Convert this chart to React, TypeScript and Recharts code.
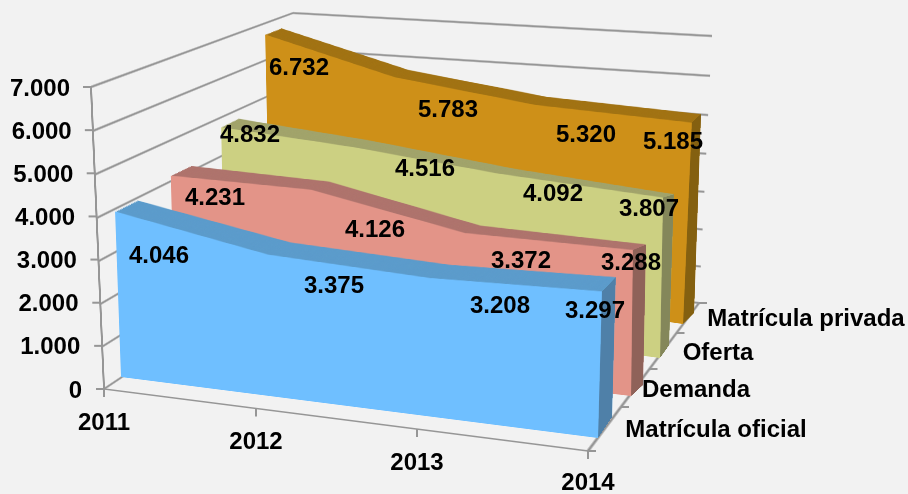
import { Area, AreaChart, CartesianGrid, Line, LineChart, ReferenceLine, Scatter, ScatterChart, XAxis, YAxis, LabelList } from 'recharts';

const YEARS = ['2011', '2012', '2013', '2014'];
const OFICIAL = [4046, 3375, 3208, 3297];
const DEMANDA = [4231, 4126, 3372, 3288];
const OFERTA = [4832, 4516, 4092, 3807];
const PRIVADA = [6732, 5783, 5320, 5185];
const Y_TICKS = [0, 1000, 2000, 3000, 4000, 5000, 6000, 7000];
const Y_MAX = 7000;

type Pt = [number, number];
type Quad = { tl: Pt; tr: Pt; br: Pt; bl: Pt };

const FONT = '"Liberation Sans", Arial, sans-serif';
const GRID = '#969696';
const BG = '#f2f2f2';
const FONT_SIZE = 24;

// plane size inside which every flat chart is drawn before being pinned on its 3d quad
const PW = 500;
const PH = 400;
const PM = 4;
const SWEEP = 14;

const LEFT_WALL: Quad = { tl: [91, 87], tr: [293, 13], br: [300, 258], bl: [104, 389] };
const BACK_WALL: Quad = { tl: [293, 13], tr: [712, 36], br: [699, 303], bl: [300, 258] };
const FLOOR: Quad = { tl: [300, 258], tr: [699, 303], br: [588, 451], bl: [104, 389] };

const SERIES = [
  {
    name: 'Matrícula privada', values: PRIVADA, fill: '#ce9018', top: '#a17212', side: '#846010',
    front: { tl: [265, 25], tr: [695, 49], br: [683, 324], bl: [270, 265] } as Quad,
    back: { tl: [281, 19], tr: [703.5, 42], br: [694, 313], bl: [285, 254] } as Quad,
    labels: [[299, 66], [448, 108], [586, 133], [673, 140]],
    nameAt: [806, 317],
  },
  {
    name: 'Oferta', values: OFERTA, fill: '#ccd082', top: '#a1a36a', side: '#84875a',
    front: { tl: [220, 48], tr: [665.5, 60], br: [660, 358], bl: [224, 300] } as Quad,
    back: { tl: [237, 41], tr: [678, 64], br: [669, 345], bl: [241, 287] } as Quad,
    labels: [[250, 133], [425, 167], [553, 192], [649, 207]],
    nameAt: [718, 351],
  },
  {
    name: 'Demanda', values: DEMANDA, fill: '#e39488', top: '#ae736c', side: '#8f6259',
    front: { tl: [168, 65], tr: [635, 81], br: [631, 396], bl: [175, 341] } as Quad,
    back: { tl: [188, 59], tr: [649.5, 81], br: [643, 385], bl: [195, 325] } as Quad,
    labels: [[215, 196], [375, 228], [521, 259], [631, 261]],
    nameAt: [696, 388],
  },
  {
    name: 'Matrícula oficial', values: OFICIAL, fill: '#6fbfff', top: '#5b9bcb', side: '#4f80a8',
    front: { tl: [110.6, 86], tr: [606.5, 120], br: [598, 438], bl: [121, 377] } as Quad,
    back: { tl: [133, 78], tr: [620, 114], br: [612, 417], bl: [143, 362] } as Quad,
    labels: [[159, 254], [334, 284], [500, 304], [595, 309]],
    nameAt: [716, 428],
  },
];

const YEAR_TICK_X = [104, 256, 417, 588];
const DEPTH_TICK_Y = [303, 333, 369, 407, 451];

const fmt = (v: number) => v.toLocaleString('de-DE');

// maps the unit square (u right, v down) on a quad
function homography(q: Quad) {
  const [x0, y0] = q.tl, [x1, y1] = q.tr, [x2, y2] = q.br, [x3, y3] = q.bl;
  const dx1 = x1 - x2, dx2 = x3 - x2, dx3 = x0 - x1 + x2 - x3;
  const dy1 = y1 - y2, dy2 = y3 - y2, dy3 = y0 - y1 + y2 - y3;
  const det = dx1 * dy2 - dx2 * dy1;
  const g = (dx3 * dy2 - dx2 * dy3) / det;
  const h = (dx1 * dy3 - dx3 * dy1) / det;
  return { a: x1 - x0 + g * x1, b: x3 - x0 + h * x3, c: x0, d: y1 - y0 + g * y1, e: y3 - y0 + h * y3, f: y0, g, h };
}

function project(q: Quad, u: number, v: number): Pt {
  const m = homography(q);
  const w = m.g * u + m.h * v + 1;
  return [(m.a * u + m.b * v + m.c) / w, (m.d * u + m.e * v + m.f) / w];
}

function pinTransform(q: Quad) {
  const { a, b, c, d, e, f, g, h } = homography(q);
  const w = PW - 2 * PM, ht = PH - 2 * PM;
  const m11 = a / w, m12 = b / ht, m13 = c - (a * PM) / w - (b * PM) / ht;
  const m21 = d / w, m22 = e / ht, m23 = f - (d * PM) / w - (e * PM) / ht;
  const m31 = g / w, m32 = h / ht, m33 = 1 - (g * PM) / w - (h * PM) / ht;
  return `matrix3d(${[m11, m21, 0, m31, m12, m22, 0, m32, 0, 0, 1, 0, m13, m23, 0, m33].join(',')})`;
}

const mix = (a: Quad, b: Quad, t: number): Quad => {
  const l = (p: Pt, q: Pt): Pt => [p[0] + (q[0] - p[0]) * t, p[1] + (q[1] - p[1]) * t];
  return { tl: l(a.tl, b.tl), tr: l(a.tr, b.tr), br: l(a.br, b.br), bl: l(a.bl, b.bl) };
};

function Plane({ quad, children }: { quad: Quad; children: any }) {
  return (
    <div style={{ position: 'absolute', left: 0, top: 0, transformOrigin: '0 0', transform: pinTransform(quad) }}>
      {children}
    </div>
  );
}

const margin = { top: PM, right: PM, bottom: PM, left: PM };

function AreaPlane({ quad, labels, values, fill, yMax = Y_MAX }: { quad: Quad; labels: string[]; values: number[]; fill: string; yMax?: number }) {
  const data = labels.map((k, i) => ({ k, v: values[i] }));
  return (
    <Plane quad={quad}>
      <AreaChart width={PW} height={PH} data={data} margin={margin}>
        <XAxis hide dataKey="k" />
        <YAxis hide domain={[0, yMax]} />
        <Area dataKey="v" type="linear" fill={fill} fillOpacity={1} stroke="none" dot={false} activeDot={false} isAnimationActive={false} />
      </AreaChart>
    </Plane>
  );
}

function WallPlane({ quad, edge }: { quad: Quad; edge: boolean }) {
  const data = [{ x: 0, v: 0 }, { x: 1, v: Y_MAX }];
  return (
    <Plane quad={quad}>
      <LineChart width={PW} height={PH} data={data} margin={margin}>
        <CartesianGrid vertical={false} stroke={GRID} strokeWidth={2.8} />
        <XAxis hide type="number" dataKey="x" domain={[0, 1]} />
        <YAxis hide domain={[0, Y_MAX]} ticks={Y_TICKS} />
        <Line dataKey="v" stroke="none" dot={false} isAnimationActive={false} />
        {edge && <ReferenceLine x={0} stroke={GRID} strokeWidth={4} />}
      </LineChart>
    </Plane>
  );
}

function FloorPlane() {
  const data = [{ x: 0, v: 0 }, { x: 1, v: 1 }];
  return (
    <Plane quad={FLOOR}>
      <LineChart width={PW} height={PH} data={data} margin={margin}>
        <XAxis hide type="number" dataKey="x" domain={[0, 1]} />
        <YAxis hide domain={[0, 1]} />
        <Line dataKey="v" stroke="none" dot={false} isAnimationActive={false} />
        <ReferenceLine y={0} stroke={GRID} strokeWidth={3} />
        <ReferenceLine x={1} stroke={GRID} strokeWidth={3} />
      </LineChart>
    </Plane>
  );
}

function ValueAxis() {
  const data = [{ v: 0 }, { v: Y_MAX }];
  const renderTick = (p: any) => {
    const v = p.payload.value;
    const axisX = 104 - (13 * v) / Y_MAX;
    const textX = 82 - (12 * v) / Y_MAX;
    return (
      <g>
        <line x1={axisX - 8} x2={axisX} y1={p.y} y2={p.y} stroke={GRID} strokeWidth={2} />
        <text x={textX} y={p.y} dy="0.36em" textAnchor="end" fontFamily={FONT} fontWeight="bold" fontSize={FONT_SIZE} fill="#000">
          {fmt(v)}
        </text>
      </g>
    );
  };
  return (
    <div style={{ position: 'absolute', left: 0, top: 0 }}>
      <LineChart width={908} height={494} data={data} margin={{ top: 87, right: 0, bottom: 105, left: 0 }}>
        <XAxis hide />
        <YAxis mirror domain={[0, Y_MAX]} ticks={Y_TICKS} interval={0} axisLine={false} tickLine={false} tick={renderTick} />
        <Line dataKey="v" stroke="none" dot={false} isAnimationActive={false} />
      </LineChart>
    </div>
  );
}

function CenteredText(p: any) {
  return (
    <text
      x={p.x + (p.width ?? 0) / 2}
      y={p.y + (p.height ?? 0) / 2}
      dy="0.36em"
      textAnchor="middle"
      fontFamily={FONT}
      fontWeight="bold"
      fontSize={FONT_SIZE}
      fill="#000"
    >
      {p.value}
    </text>
  );
}

function TextLayer() {
  const valueLabels = SERIES.flatMap((s) => s.values.map((v, i) => ({ x: s.labels[i][0], y: s.labels[i][1], t: fmt(v) })));
  const nameLabels = SERIES.map((s) => ({ x: s.nameAt[0], y: s.nameAt[1], t: s.name }));
  const renderYear = (p: any) => {
    const i = YEAR_TICK_X.indexOf(p.payload.value);
    const lineY = 389 + ((p.x - 104) * 62) / 484;
    return (
      <g>
        <line x1={p.x} x2={p.x} y1={lineY} y2={lineY + 8} stroke={GRID} strokeWidth={2} />
        <text x={p.x} y={Math.min(lineY + 32, 481)} dy="0.36em" textAnchor="middle" fontFamily={FONT} fontWeight="bold" fontSize={FONT_SIZE} fill="#000">
          {YEARS[i]}
        </text>
      </g>
    );
  };
  const renderDepth = (p: any) => {
    const y = p.payload.value;
    const x = 588 + ((451 - y) * 111) / 148;
    return <line x1={x} x2={x + 8} y1={p.y} y2={p.y} stroke={GRID} strokeWidth={2} />;
  };
  return (
    <div style={{ position: 'absolute', left: 0, top: 0 }}>
      <ScatterChart width={908} height={494} margin={{ top: 0, right: 0, bottom: 0, left: 0 }}>
        <XAxis mirror type="number" dataKey="x" domain={[0, 908]} ticks={YEAR_TICK_X} interval={0} axisLine={false} tickLine={false} tick={renderYear} />
        <YAxis mirror type="number" dataKey="y" reversed domain={[0, 494]} ticks={DEPTH_TICK_Y} interval={0} axisLine={false} tickLine={false} tick={renderDepth} />
        <Scatter data={valueLabels} shape={() => <g />} isAnimationActive={false}>
          <LabelList dataKey="t" content={CenteredText} />
        </Scatter>
        <Scatter data={nameLabels} shape={() => <g />} isAnimationActive={false}>
          <LabelList dataKey="t" content={CenteredText} />
        </Scatter>
      </ScatterChart>
    </div>
  );
}

export default function App() {
  return (
    <div style={{ position: 'absolute', left: 0, top: 0, width: 908, height: 494, overflow: 'hidden', background: BG }}>
      <WallPlane quad={BACK_WALL} edge={false} />
      <WallPlane quad={LEFT_WALL} edge />
      <FloorPlane />
      {SERIES.map((s) => {
        const last = s.values[s.values.length - 1];
        const steps = Array.from({ length: SWEEP }, (_, i) => 1 - i / SWEEP);
        // side face: end value on the front plane to end value on the back plane
        const v = 1 - last / Y_MAX;
        const sideQuad: Quad = { tl: project(s.front, 1, v), tr: project(s.back, 1, v), br: s.back.br, bl: s.front.br };
        return (
          <div key={s.name}>
            {steps.map((t) => (
              <AreaPlane key={t} quad={mix(s.front, s.back, t)} labels={YEARS} values={s.values} fill={s.top} />
            ))}
            <AreaPlane quad={sideQuad} labels={['front', 'back']} values={[last, last]} fill={s.side} yMax={last} />
            <AreaPlane quad={s.front} labels={YEARS} values={s.values} fill={s.fill} />
          </div>
        );
      })}
      <ValueAxis />
      <TextLayer />
    </div>
  );
}
